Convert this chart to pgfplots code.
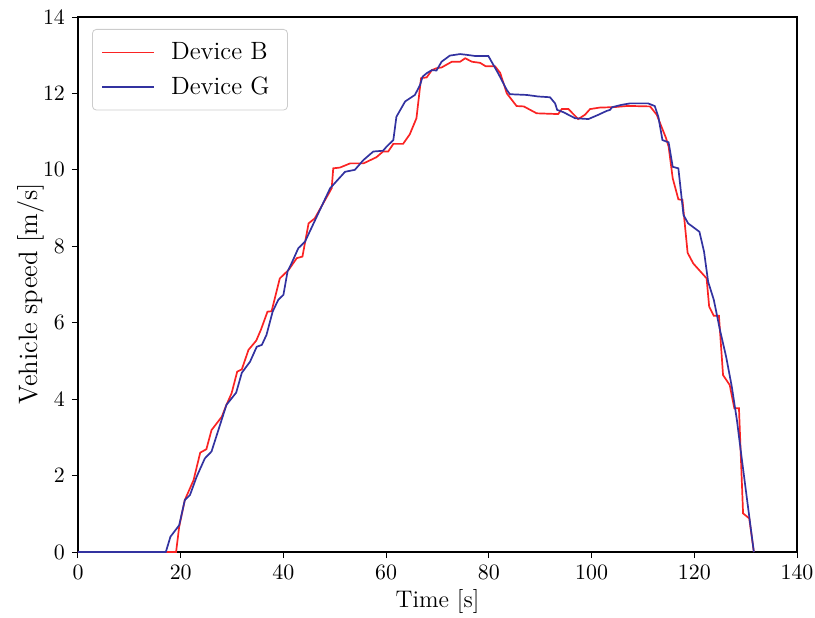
\documentclass[border=0pt]{standalone}
\usepackage{pgfplots}
\pgfplotsset{compat=1.18}
\definecolor{cB}{RGB}{250,35,35}
\definecolor{cG}{RGB}{50,50,160}
\begin{document}
\begin{tikzpicture}
\begin{axis}[name=ax,
  scale only axis, width=359.5pt, height=267.5pt,
  xmin=0, xmax=140, ymin=0, ymax=14,
  xtick={0,20,...,140}, ytick={0,2,...,14},
  xtick pos=bottom, ytick pos=left, tick align=outside,
  major tick length=3pt,
  tick style={black, line width=0.5pt},
  axis line style={line width=0.6pt},
  ticklabel style={font=\fontsize{11}{13}\selectfont},
  xlabel={Time [s]}, ylabel={Vehicle speed [m/s]},
  xlabel style={font=\fontsize{12}{14}\selectfont, at={(axis description cs:0.5,-0.1028)}, anchor=base},
  ylabel style={font=\fontsize{13.3}{15}\selectfont, at={(axis description cs:-0.057,0.483)}, anchor=base},
  legend style={at={(axis description cs:0.0195,0.9776)}, anchor=north west,
    draw=black!20, rounded corners=2pt, font=\fontsize{12.5}{15}\selectfont,
    inner xsep=4.5pt, inner ysep=4.5pt, row sep=3pt, column sep=6pt},
  legend cell align=left,
  legend image code/.code={\draw[#1] (0pt,0pt) -- (26pt,0pt);},
]
\addplot[cB, line width=0.85pt] coordinates {
(0,0) (19.1,0) (19.7,0.66) (20.8,1.36) (22.5,1.88) (23.8,2.6) (25.0,2.69) (26.0,3.19) (28.0,3.54) (28.9,3.85) (29.9,4.15) (31.0,4.72) (31.9,4.78) (33.2,5.29) (34.7,5.53) (35.6,5.81) (36.9,6.29) (37.7,6.30) (39.3,7.16) (41.0,7.38) (42.6,7.69) (43.7,7.73) (44.9,8.6) (46.1,8.73) (49.4,9.52) (49.7,10.04) (51.0,10.06) (53.0,10.17) (55.6,10.17) (58.1,10.33) (59.4,10.48) (60.4,10.48) (61.4,10.68) (63.3,10.68) (64.6,10.93) (65.9,11.35) (66.8,12.4) (67.9,12.42) (68.9,12.61) (69.8,12.66) (70.8,12.68) (72.8,12.83) (74.4,12.83) (75.4,12.92) (76.7,12.83) (78.3,12.80) (79.4,12.71) (81.2,12.71) (82.2,12.54) (83.5,12.0) (85.4,11.67) (86.8,11.66) (89.3,11.48) (93.5,11.46) (94.2,11.59) (95.5,11.59) (97.4,11.33) (98.7,11.44) (99.7,11.59) (101.6,11.63) (104.2,11.64) (106.8,11.67) (108.1,11.67) (111.4,11.66) (112.7,11.44) (114.5,10.83) (115.0,10.61) (115.8,9.78) (116.9,9.23) (117.7,9.21) (118.7,7.83) (119.8,7.55) (122.4,7.16) (122.9,6.42) (123.8,6.18) (124.8,6.18) (125.6,4.63) (126.9,4.37) (127.8,3.76) (128.7,3.76) (129.5,1.01) (130.7,0.88) (131.6,0)
};
\addlegendentry{Device B\hspace*{2.5pt}}
\addplot[cG, line width=0.85pt] coordinates {
(0,0) (17.1,0) (18.0,0.4) (19.7,0.7) (20.8,1.36) (21.8,1.49) (23.1,1.97) (24.7,2.45) (26.0,2.63) (28.9,3.85) (30.8,4.17) (31.9,4.69) (33.5,4.98) (34.8,5.37) (35.8,5.42) (36.7,5.68) (37.9,6.29) (39.0,6.6) (40.0,6.73) (40.8,7.34) (41.6,7.56) (42.9,7.95) (44.2,8.12) (46.5,8.78) (49.1,9.52) (52.0,9.95) (53.9,10.0) (55.6,10.26) (57.5,10.48) (59.4,10.5) (60.1,10.61) (61.4,10.78) (62.0,11.39) (63.7,11.79) (65.6,11.96) (66.6,12.22) (67.1,12.44) (67.9,12.53) (68.9,12.61) (69.8,12.6) (70.8,12.83) (72.4,12.99) (74.4,13.03) (75.7,13.01) (77.3,12.98) (79.9,12.98) (81.8,12.53) (83.5,12.09) (84.1,11.98) (87.4,11.96) (89.6,11.92) (91.9,11.9) (92.9,11.74) (93.3,11.57) (94.5,11.51) (96.8,11.35) (99.4,11.33) (101.3,11.44) (102.9,11.54) (103.6,11.57) (104.0,11.64) (105.8,11.70) (107.5,11.74) (111.0,11.74) (112.3,11.67) (113.0,11.39) (113.8,10.78) (115.0,10.72) (115.8,10.08) (116.9,10.04) (117.9,8.82) (118.8,8.6) (121.0,8.38) (121.9,7.86) (122.7,7.07) (123.8,6.6) (125.0,5.81) (126.2,5.11) (127.3,4.33) (128.3,3.45) (129.2,2.49) (130.2,1.45) (131.6,0)
};
\addlegendentry{Device G\hspace*{2.5pt}}
\end{axis}
\pgfresetboundingbox
\path ([shift={(-39pt,-32.5pt)}]ax.south west) rectangle ([shift={(9pt,8.5pt)}]ax.north east);
\end{tikzpicture}
\end{document}
